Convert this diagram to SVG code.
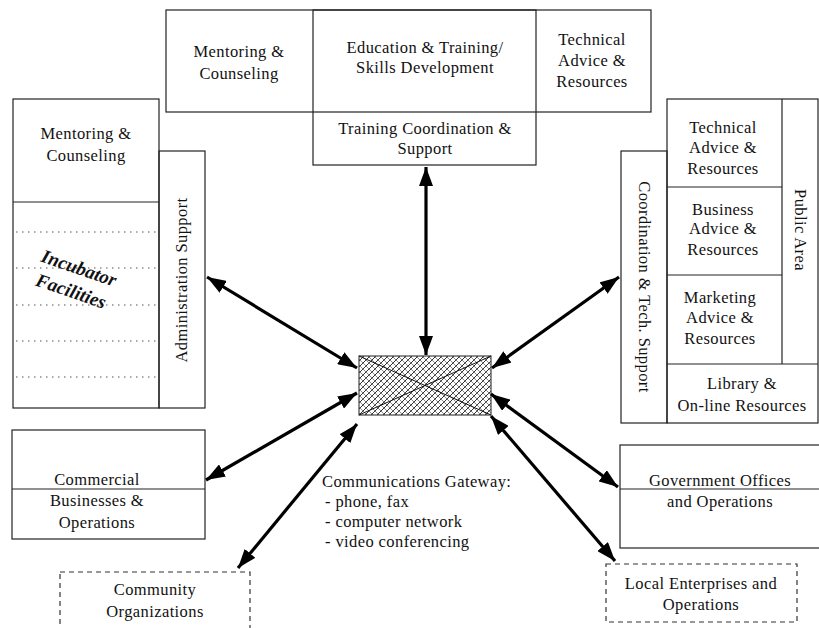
<svg xmlns="http://www.w3.org/2000/svg" width="819" height="628" viewBox="0 0 819 628">
<style>
.box{fill:none;stroke:#222;stroke-width:1.2}
.dash{fill:none;stroke:#333;stroke-width:1.2;stroke-dasharray:5 4}
.dot{stroke:#555;stroke-width:1;stroke-dasharray:1.5 4.5}
text{font-family:"Liberation Serif","Times New Roman",serif;font-size:16.5px;letter-spacing:0.4px;fill:#111;text-anchor:middle}
.lt{text-anchor:start}
.inc{font-weight:bold;font-style:italic;font-size:19px;letter-spacing:0}
.arr{stroke:#000;stroke-width:3.2;fill:none;marker-start:url(#ah);marker-end:url(#ah)}
</style>
<defs>
<marker id="ah" markerUnits="userSpaceOnUse" markerWidth="20" markerHeight="14" refX="19" refY="7" orient="auto-start-reverse">
<path d="M0,0 L19,7 L0,14 z" fill="#000"/>
</marker>
<pattern id="hatch" patternUnits="userSpaceOnUse" width="6" height="6">
<rect width="6" height="6" fill="#fff"/>
<path d="M-1,1 L1,-1 M0,6 L6,0 M5,7 L7,5" stroke="#333" stroke-width="1"/>
<path d="M-1,5 L1,7 M0,0 L6,6 M5,-1 L7,1" stroke="#888" stroke-width="1"/>
</pattern>
</defs>
<rect width="819" height="628" fill="#fff"/>

<g id="top-block">
<rect class="box" x="166" y="10" width="485" height="102"/>
<rect class="box" x="313" y="10" width="223" height="155"/>
<text x="239" y="57">Mentoring &amp;</text>
<text x="239" y="79">Counseling</text>
<text x="425" y="53">Education &amp; Training/</text>
<text x="425" y="73">Skills Development</text>
<text x="592" y="45">Technical</text>
<text x="592" y="66">Advice &amp;</text>
<text x="592" y="87">Resources</text>
<text x="425" y="134">Training Coordination &amp;</text>
<text x="425" y="154">Support</text>
</g>

<g id="left-block">
<rect class="box" x="13" y="99" width="146" height="309"/>
<line class="box" x1="13" y1="202" x2="159" y2="202"/>
<rect class="box" x="159" y="151" width="46" height="257"/>
<line class="dot" x1="16" y1="232" x2="158" y2="232"/>
<line class="dot" x1="16" y1="268" x2="158" y2="268"/>
<line class="dot" x1="16" y1="305" x2="158" y2="305"/>
<line class="dot" x1="16" y1="341" x2="158" y2="341"/>
<line class="dot" x1="16" y1="377" x2="158" y2="377"/>
<text x="86" y="139">Mentoring &amp;</text>
<text x="86" y="161">Counseling</text>
<text class="inc" transform="translate(77,274) rotate(19)">Incubator</text>
<text class="inc" transform="translate(69,297) rotate(19)">Facilities</text>
<text transform="translate(187,280) rotate(-90)">Administration Support</text>
</g>

<g id="right-block">
<rect class="box" x="621" y="151" width="46" height="272"/>
<rect class="box" x="667" y="99" width="151" height="324"/>
<line class="box" x1="782" y1="99" x2="782" y2="364"/>
<line class="box" x1="667" y1="187" x2="782" y2="187"/>
<line class="box" x1="667" y1="275" x2="782" y2="275"/>
<line class="box" x1="667" y1="364" x2="818" y2="364"/>
<text x="723" y="133">Technical</text>
<text x="723" y="153">Advice &amp;</text>
<text x="723" y="174">Resources</text>
<text x="723" y="215">Business</text>
<text x="723" y="234">Advice &amp;</text>
<text x="723" y="255">Resources</text>
<text x="720" y="303">Marketing</text>
<text x="720" y="323">Advice &amp;</text>
<text x="720" y="344">Resources</text>
<text x="742" y="389">Library &amp;</text>
<text x="742" y="411">On-line  Resources</text>
<text transform="translate(639,287) rotate(90)">Coordination &amp; Tech. Support</text>
<text transform="translate(795,230) rotate(90)">Public Area</text>
</g>

<g id="gateway">
<rect x="359" y="356" width="132" height="59" fill="url(#hatch)" stroke="#444" stroke-width="1.2"/>
<line x1="359" y1="356" x2="491" y2="415" stroke="#111" stroke-width="1"/>
<line x1="359" y1="415" x2="491" y2="356" stroke="#111" stroke-width="1"/>
<text class="lt" x="322" y="487">Communications Gateway:</text>
<text class="lt" x="325" y="507">- phone, fax</text>
<text class="lt" x="325" y="527">- computer network</text>
<text class="lt" x="325" y="547">- video conferencing</text>
</g>

<g id="commercial">
<rect class="box" x="12" y="430" width="193" height="109"/>
<line class="box" x1="12" y1="489" x2="205" y2="489"/>
<text x="97" y="485">Commercial</text>
<text x="97" y="506">Businesses &amp;</text>
<text x="97" y="528">Operations</text>
</g>

<g id="community">
<rect class="dash" x="60" y="572" width="190" height="70"/>
<text x="155" y="595">Community</text>
<text x="155" y="617">Organizations</text>
</g>

<g id="government">
<rect class="box" x="620" y="445" width="205" height="103"/>
<line class="box" x1="620" y1="489" x2="819" y2="489"/>
<text x="720" y="486">Government Offices</text>
<text x="720" y="507">and Operations</text>
</g>

<g id="local">
<rect class="dash" x="606" y="564" width="191" height="58"/>
<text x="701" y="589">Local Enterprises and</text>
<text x="701" y="610">Operations</text>
</g>

<g id="connectors">
<line class="arr" x1="426" y1="167" x2="426" y2="355"/>
<line class="arr" x1="207" y1="277" x2="357" y2="368"/>
<line class="arr" x1="619" y1="277" x2="492" y2="368"/>
<line class="arr" x1="206" y1="480" x2="357" y2="393"/>
<line class="arr" x1="238" y1="568" x2="357" y2="424"/>
<line class="arr" x1="491" y1="394" x2="618" y2="487"/>
<line class="arr" x1="491" y1="416" x2="615" y2="561"/>
</g>
</svg>
